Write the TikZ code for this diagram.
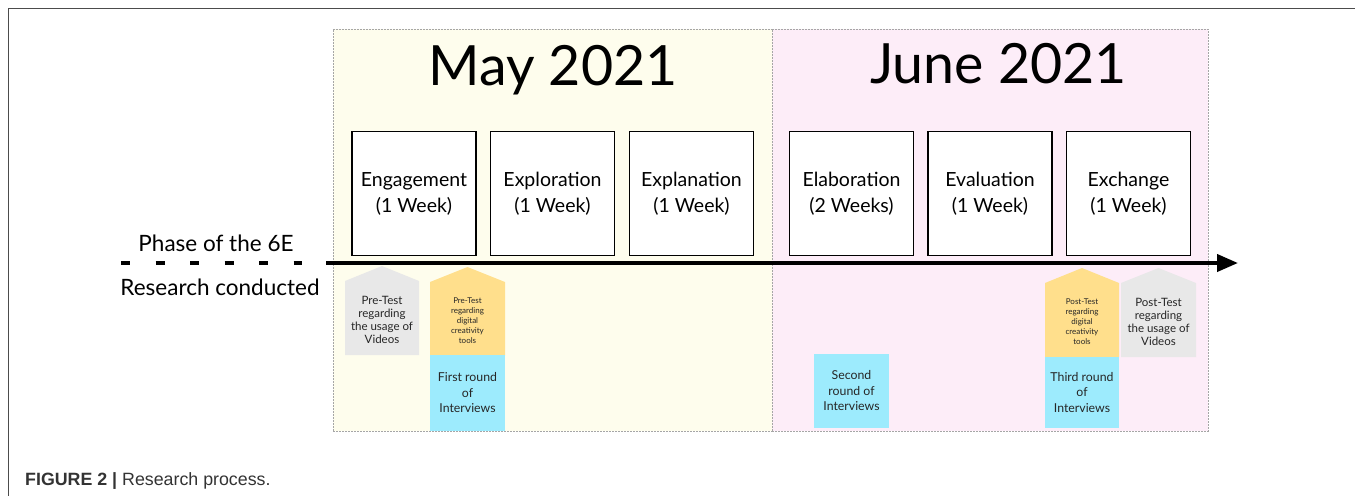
\documentclass[tikz,border=0pt]{standalone}
\usepackage{fontspec}
\setmainfont{Lato}
\newfontfamily\capfont{Liberation Sans}
\usetikzlibrary{arrows.meta}
\definecolor{mayBg}{HTML}{FEFDED}
\definecolor{juneBg}{HTML}{FDEDF8}
\definecolor{grayBox}{HTML}{E8E8E8}
\definecolor{yellowBox}{HTML}{FFDF8C}
\definecolor{blueBox}{HTML}{9DEBFD}
\definecolor{capText}{HTML}{333333}
\tikzset{
  panel/.style={draw=black!35, line width=0.6pt, dash pattern=on 2pt off 1pt, minimum height=402pt, inner sep=0pt},
  monthtitle/.style={font=\fontsize{55.5}{60}\selectfont, anchor=base, inner sep=0pt},
  phasebox/.style={draw=black, line width=1.6pt, fill=white, minimum width=124pt, minimum height=124pt, align=center, inner sep=0pt, font=\fontsize{19.5}{26}\selectfont},
  sidelabel/.style={font=\fontsize{22.5}{24}\selectfont, anchor=base, inner sep=0pt},
  smalltxt/.style={align=center, inner sep=0pt, font=\fontsize{11.5}{13}\selectfont, text=black!85},
  tinytxt/.style={align=center, inner sep=0pt, font=\fontsize{8}{10}\selectfont, text=black!85},
  bluetxt/.style={align=center, inner sep=0pt, font=\fontsize{12.3}{15.5}\selectfont, text=black!85},
  bluebox/.style={fill=blueBox, minimum width=75pt, inner sep=0pt},
  timeline/.style={line width=4pt, -{Triangle[length=21pt,width=17pt]}},
  dashline/.style={line width=4pt, dash pattern=on 9pt off 25.5pt}
}
\begin{document}
\begin{tikzpicture}[x=1pt,y=-1pt]
\useasboundingbox (0,0) rectangle (1355,496);
% outer frame
\draw[line width=1pt, black!70] (1355,8) -- (8,8) -- (8,496);
% panels
\node[panel, fill=mayBg, minimum width=439pt] (may) at (552.5,230) {};
\node[panel, fill=juneBg, minimum width=436pt] (june) at (990,230) {};
\node[monthtitle] (maytitle) at (553,85) {May 2021};
\node[monthtitle] (junetitle) at (998.5,83) {June 2021};
% phase boxes
\node[phasebox] (engage) at (414,193.5) {Engagement\\(1 Week)};
\node[phasebox] (explore) at (552.5,193.5) {Exploration\\(1 Week)};
\node[phasebox] (explain) at (691.5,193.5) {Explanation\\(1 Week)};
\node[phasebox] (elab) at (851.5,193.5) {Elaboration\\(2 Weeks)};
\node[phasebox] (eval) at (990,193.5) {Evaluation\\(1 Week)};
\node[phasebox] (exch) at (1128.5,193.5) {Exchange\\(1 Week)};
% side labels
\node[sidelabel] (phaselbl) at (216,251) {Phase of the 6E};
\node[sidelabel] (reslbl) at (220,295) {Research conducted};
% timeline
\coordinate (d0) at (121,263);
\coordinate (d1) at (302,263);
\coordinate (t0) at (326,263);
\coordinate (t1) at (1238,263);
\draw[dashline] (d0) -- (d1);
\draw[timeline] (t0) -- (t1);
% research shapes - May
\fill[grayBox] (345,355) -- (345,281) -- (382,266) -- (419,281) -- (419,355) -- cycle;
\node[smalltxt] (pretestv) at (382,319.5) {Pre-Test\\regarding\\the usage of\\Videos};
\fill[yellowBox] (430,355.5) -- (430,282) -- (467.5,267) -- (505,282) -- (505,355.5) -- cycle;
\node[tinytxt] (pretestd) at (467.5,321) {Pre-Test\\regarding\\digital\\creativity\\tools};
\node[bluebox, minimum height=76pt] (int1) at (467.5,393) {};
\node[bluetxt] at (int1.center) {First round\\of\\Interviews};
% research shapes - June
\node[bluebox, minimum height=74pt] (int2) at (851.5,391) {};
\node[bluetxt] at (int2.center) {Second\\round of\\Interviews};
\fill[yellowBox] (1045,357) -- (1045,283) -- (1082,268) -- (1119,283) -- (1119,357) -- cycle;
\node[tinytxt] (posttestd) at (1082,322) {Post-Test\\regarding\\digital\\creativity\\tools};
\node[bluebox, minimum height=71pt, minimum width=74pt] (int3) at (1082,392.5) {};
\node[bluetxt] at (int3.center) {Third round\\of\\Interviews};
\fill[grayBox] (1121,357) -- (1121,283) -- (1158.5,268) -- (1196,283) -- (1196,357) -- cycle;
\node[smalltxt] (posttestv) at (1158.5,322) {Post-Test\\regarding\\the usage of\\Videos};
% caption
\node[anchor=base west, inner sep=0pt, text=capText, font=\capfont\fontsize{17.8}{20}\selectfont] (caption) at (25,485) {\textbf{FIGURE 2 |} Research process.};
\end{tikzpicture}
\end{document}
